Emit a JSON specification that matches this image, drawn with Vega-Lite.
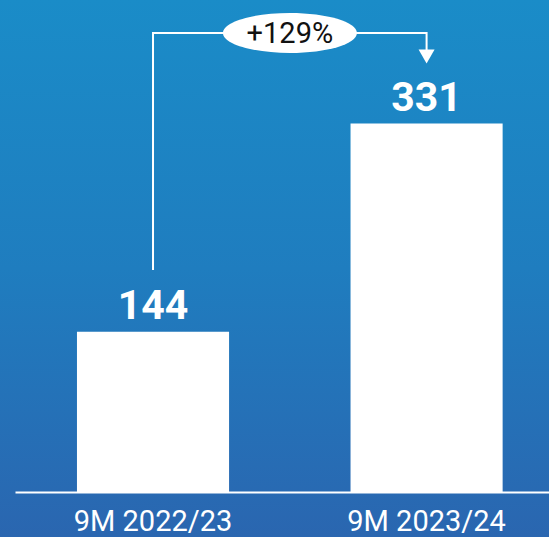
{
  "$schema": "https://vega.github.io/schema/vega-lite/v6.json",
  "width": 549,
  "height": 537,
  "padding": 0,
  "autosize": {"type": "none"},
  "background": "#2a66b0",
  "config": {"view": {"stroke": null}},
  "datasets": {
    "bars": [
      {"period": "9M 2022/23", "value": 144},
      {"period": "9M 2023/24", "value": 331}
    ],
    "connector": [
      {"period": "9M 2022/23", "value": 199.4, "order": 1},
      {"period": "9M 2022/23", "value": 412.4, "order": 2},
      {"period": "9M 2023/24", "value": 412.4, "order": 3},
      {"period": "9M 2023/24", "value": 397, "order": 4}
    ],
    "arrow": [{"period": "9M 2023/24", "value": 391.2}],
    "change": [{"period": "9M 2022/23", "value": 412.4, "label": "+129%"}]
  },
  "layer": [
    {
      "data": {"values": [{"bg": 1}]},
      "mark": {
        "type": "rect",
        "fill": {
          "gradient": "linear",
          "x1": 0, "y1": 0, "x2": 0, "y2": 1,
          "stops": [
            {"offset": 0, "color": "#1a8cc8"},
            {"offset": 0.5, "color": "#1f7dbf"},
            {"offset": 1, "color": "#2a66b0"}
          ]
        }
      },
      "encoding": {}
    },
    {
      "data": {"name": "bars"},
      "mark": {"type": "bar", "color": "#ffffff"},
      "encoding": {
        "x": {
          "field": "period", "type": "nominal",
          "scale": {"domain": ["9M 2022/23", "9M 2023/24"], "range": [15, 549], "paddingInner": 0.444, "paddingOuter": 0.198, "align": 0.572},
          "axis": {
            "title": null, "orient": "bottom", "offset": -45, "zindex": 1,
            "domainColor": "#ffffff", "domainWidth": 2,
            "ticks": false, "tickSize": 0,
            "labelAngle": 0, "labelColor": "#ffffff", "labelFont": "Roboto", "labelFontSize": 29,
            "labelBaseline": "alphabetic", "labelPadding": 38
          }
        },
        "y": {
          "field": "value", "type": "quantitative",
          "scale": {"domain": [0, 442], "range": [492, 0], "nice": false},
          "axis": null
        }
      }
    },
    {
      "data": {"name": "bars"},
      "mark": {"type": "text", "color": "#ffffff", "font": "Roboto", "fontWeight": "bold", "fontSize": 41, "baseline": "alphabetic", "dy": -13},
      "encoding": {
        "x": {"field": "period", "type": "nominal"},
        "y": {"field": "value", "type": "quantitative"},
        "text": {"field": "value", "type": "quantitative"}
      }
    },
    {
      "data": {"name": "connector"},
      "mark": {"type": "line", "color": "#ffffff", "strokeWidth": 2, "interpolate": "linear"},
      "encoding": {
        "x": {"field": "period", "type": "nominal"},
        "y": {"field": "value", "type": "quantitative"},
        "order": {"field": "order", "type": "quantitative"}
      }
    },
    {
      "data": {"name": "arrow"},
      "mark": {"type": "point", "shape": "triangle-down", "size": 256, "filled": true, "color": "#ffffff", "opacity": 1},
      "encoding": {
        "x": {"field": "period", "type": "nominal"},
        "y": {"field": "value", "type": "quantitative"}
      }
    },
    {
      "data": {"name": "change"},
      "mark": {"type": "point", "shape": "M-1,0A1,0.2985,0,1,0,1,0A1,0.2985,0,1,0,-1,0Z", "size": 17956, "filled": true, "color": "#ffffff", "opacity": 1},
      "encoding": {
        "x": {"field": "period", "type": "nominal", "bandPosition": 1.4},
        "y": {"field": "value", "type": "quantitative"}
      }
    },
    {
      "data": {"name": "change"},
      "mark": {"type": "text", "color": "#111111", "font": "Roboto", "fontSize": 29, "baseline": "middle", "align": "center", "dy": 1},
      "encoding": {
        "x": {"field": "period", "type": "nominal", "bandPosition": 1.4},
        "y": {"field": "value", "type": "quantitative"},
        "text": {"field": "label", "type": "nominal"}
      }
    }
  ]
}
